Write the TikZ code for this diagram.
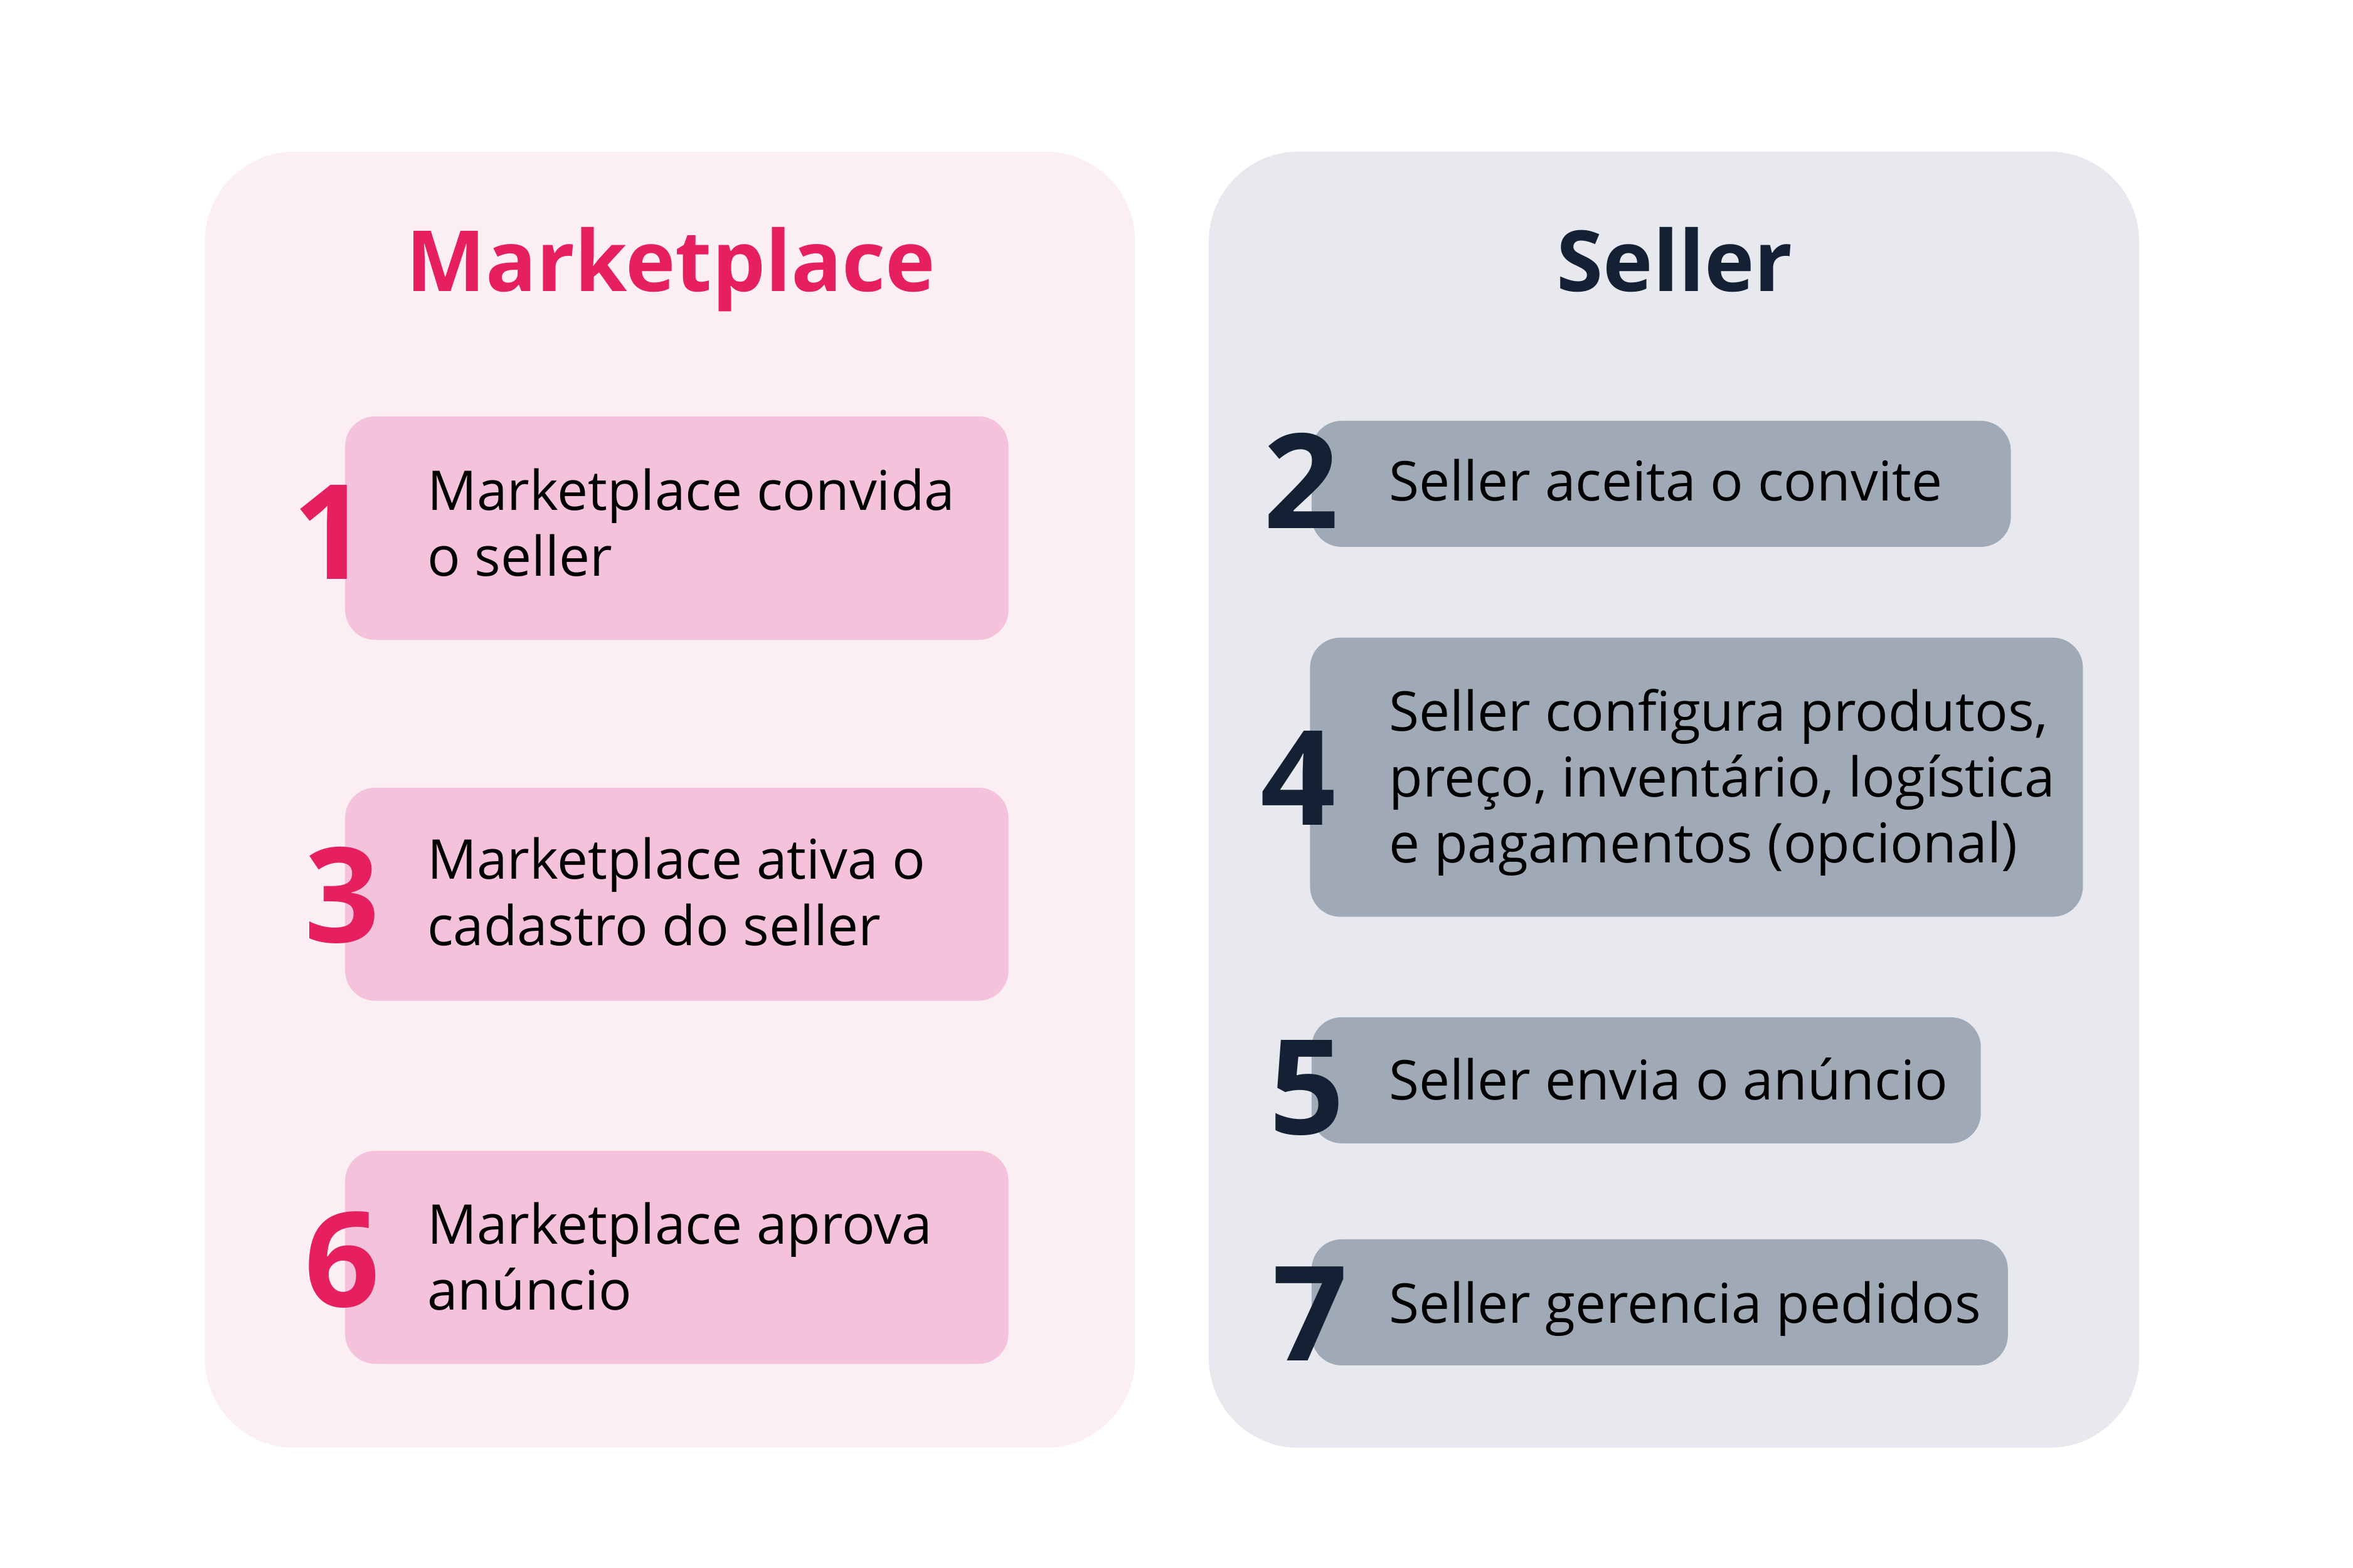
\documentclass[tikz,border=0pt]{standalone}
\usepackage{fontspec}
\setmainfont{Open Sans}
\definecolor{mppink}{HTML}{E6205F}
\definecolor{mpback}{HTML}{FCEFF4}
\definecolor{mpfill}{HTML}{F5C2DB}
\definecolor{slnavy}{HTML}{142033}
\definecolor{slback}{HTML}{E7E9EE}
\definecolor{slfill}{HTML}{A0AAB6}

\begin{document}
\begin{tikzpicture}[x=0.1mm,y=-0.1mm,
  panel/.style={rounded corners=6mm, inner sep=0pt, minimum width=62mm, minimum height=86.4mm},
  mpstep/.style={fill=mpfill, rounded corners=2mm, inner sep=0pt, minimum width=44.2mm},
  slstep/.style={fill=slfill, rounded corners=2mm, inner sep=0pt},
  colhead/.style={anchor=base, font=\fontsize{16}{19}\selectfont\bfseries},
  stepnum/.style={anchor=base, font=\fontsize{25}{28}\selectfont\bfseries},
  steptext/.style={anchor=base west, align=left, inner sep=0pt, font=\fontsize{10.4}{12.5}\selectfont}]
  \useasboundingbox (0,0) rectangle (1568,1045);

  \node [panel, fill=mpback] (MP) at (446.5,533) {};
  \node [panel, fill=slback] (SL) at (1115.5,533) {};
  \node [colhead, text=mppink] (MPt) at (447,194) {Marketplace};
  \node [colhead, text=slnavy] (SLt) at (1116,194) {Seller};

  \node [mpstep, minimum height=14.9mm] (B1) at (451,352) {};
  \node [mpstep, minimum height=14.2mm] (B3) at (451,596) {};
  \node [mpstep, minimum height=14.2mm] (B6) at (451,838) {};
  \node [steptext] (T1) at (284,384) {Marketplace convida\\o seller};
  \node [steptext] (T3) at (284,630) {Marketplace ativa o\\cadastro do seller};
  \node [steptext] (T6) at (284,873) {Marketplace aprova\\anúncio};
  \node [stepnum, text=mppink] (N1) at (220,386) {1};
  \node [stepnum, text=mppink] (N3) at (228,628) {3};
  \node [stepnum, text=mppink] (N6) at (228,871) {6};

  \node [slstep, minimum width=46.6mm, minimum height=8.4mm] (B2) at (1107,322.5) {};
  \node [slstep, minimum width=51.5mm, minimum height=18.6mm] (B4) at (1130.5,518) {};
  \node [slstep, minimum width=44.6mm, minimum height=8.4mm] (B5) at (1097,720) {};
  \node [slstep, minimum width=46.4mm, minimum height=8.4mm] (B7) at (1106,868) {};
  \node [steptext] (T2) at (925,334) {Seller aceita o convite};
  \node [steptext] (T4) at (925,575) {Seller configura produtos,\\preço, inventário, logística\\e pagamentos (opcional)};
  \node [steptext] (T5) at (925,733) {Seller envia o anúncio};
  \node [steptext] (T7) at (925,882) {Seller gerencia pedidos};
  \node [stepnum, text=slnavy] (N2) at (867,352) {2};
  \node [stepnum, text=slnavy] (N4) at (865,550) {4};
  \node [stepnum, text=slnavy] (N5) at (871,756) {5};
  \node [stepnum, text=slnavy] (N7) at (873,907) {7};
\end{tikzpicture}
\end{document}
